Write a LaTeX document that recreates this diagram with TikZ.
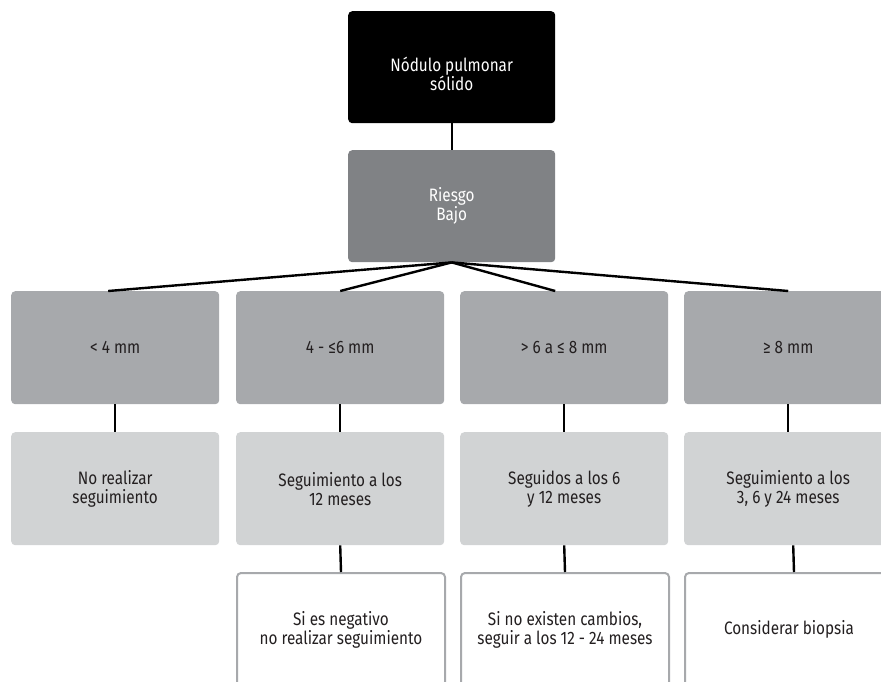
\documentclass[tikz,border=0pt]{standalone}
\usepackage{fontspec}
\setmainfont[FakeStretch=0.85]{Fira Sans}
\definecolor{riskgray}{HTML}{808285}
\definecolor{sizegray}{HTML}{A7A9AC}
\definecolor{plangray}{HTML}{D1D3D4}
\definecolor{inkdark}{HTML}{231F20}
\begin{document}
\begin{tikzpicture}[x=1pt,y=-1pt,
  box/.style={rounded corners=4pt, minimum width=208pt, minimum height=113pt,
    inner sep=0pt, align=center, anchor=north west,
    font=\fontsize{18}{19}\selectfont},
  rootbox/.style={box, fill=black, minimum width=207pt, minimum height=112pt},
  riskbox/.style={box, fill=riskgray, text=white, minimum width=207pt, minimum height=112pt},
  sizebox/.style={box, fill=sizegray, text=inkdark},
  planbox/.style={box, fill=plangray, text=inkdark},
  notebox/.style={box, fill=white, draw=sizegray, line width=2pt, text=inkdark},
  lbl/.style={align=center, inner sep=0pt, font=\fontsize{18}{19}\selectfont},
  link/.style={line width=2.4pt, black}]
\useasboundingbox (0,0) rectangle (881,681);
\clip (0,0) rectangle (881,681);

% root and risk level
\node[rootbox] (root) at (348,11) {};
\node[lbl, text=white] (rootlbl) at ([yshift=-7pt]root.center) {Nódulo pulmonar\\sólido};
\node[riskbox] (risk) at (348,150) {Riesgo\\Bajo};

% nodule size classes
\node[sizebox] (s1) at (11,291)  {< 4 mm};
\node[sizebox] (s2) at (236,291) {4 - ≤6 mm};
\node[sizebox] (s3) at (460,291) {> 6 a ≤ 8 mm};
\node[sizebox] (s4) at (684,291) {≥ 8 mm};

% follow-up plans
\node[planbox] (p1) at (11,432)  {No realizar\\seguimiento};
\node[planbox] (p2) at (236,432) {Seguimiento a los\\12 meses};
\node[planbox] (p3) at (460,432) {Seguidos a los 6\\y 12 meses};
\node[planbox] (p4) at (684,432) {Seguimiento a los\\3, 6 y 24 meses};

% further notes
\node[notebox] (n2) at (236,572) {Si es negativo\\no realizar seguimiento};
\node[notebox] (n3) at (460,572) {Si no existen cambios,\\seguir a los 12 - 24 meses};
\node[notebox] (n4) at (684,572) {Considerar biopsia};

% connectors
\draw[link] (root.south) -- (risk.north);
\draw[link] (risk.south) -- ([xshift=-7pt]s1.north);
\draw[link] (risk.south) -- (s2.north);
\draw[link] (risk.south) -- ([xshift=-9pt]s3.north);
\draw[link] (risk.south) -- (s4.north);
\draw[link] (s1.south) -- (p1.north);
\draw[link] (s2.south) -- (p2.north);
\draw[link] (s3.south) -- (p3.north);
\draw[link] (s4.south) -- (p4.north);
\draw[link] (p2.south) -- (n2.north);
\draw[link] (p3.south) -- (n3.north);
\draw[link] ([xshift=5pt]p4.south) -- ([xshift=5pt]n4.north);
\end{tikzpicture}
\end{document}
